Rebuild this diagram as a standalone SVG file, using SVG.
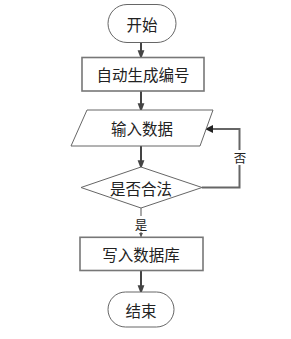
<svg xmlns="http://www.w3.org/2000/svg" width="291" height="339" viewBox="0 0 291 339">
<defs>
<marker id="ah" markerWidth="9" markerHeight="12" refX="9" refY="4.5" orient="auto" markerUnits="userSpaceOnUse" viewBox="0 0 12 9">
<path d="M0,0 L12,4.5 L0,9 Z" fill="#444"/>
</marker>
<marker id="ahs" markerWidth="6" markerHeight="4" refX="6" refY="3" orient="auto" markerUnits="userSpaceOnUse" viewBox="0 0 6 6">
<path d="M0,0 L6,3 L0,6 Z" fill="#555"/>
</marker>
<marker id="ahl" markerWidth="8" markerHeight="8" refX="8" refY="4" orient="auto" markerUnits="userSpaceOnUse" viewBox="0 0 8 8">
<path d="M0,0 L8,4 L0,8 Z" fill="#222"/>
</marker>
</defs>
<style>
.term{fill:#fff;stroke:#666;stroke-width:1}
.box{fill:#fff;stroke:#777;stroke-width:1.6}
.shape{fill:#fff;stroke:#666;stroke-width:1}
.t{font-family:"Noto Sans CJK SC","Noto Sans",sans-serif;font-size:15.5px;fill:#222;text-anchor:middle;dominant-baseline:central}
.lbl{font-family:"Noto Sans CJK SC","Noto Sans",sans-serif;font-size:12.5px;fill:#222;text-anchor:middle;dominant-baseline:central}
.c{fill:none;stroke:#444;stroke-width:2}
.c2{fill:none;stroke:#666;stroke-width:2}
</style>
<g id="connectors">
<line class="c" x1="141" y1="42.5" x2="141" y2="57" marker-end="url(#ah)"/>
<line class="c" x1="141" y1="91" x2="141" y2="110" marker-end="url(#ah)"/>
<line class="c" x1="141" y1="146" x2="141" y2="167" marker-end="url(#ah)"/>
<line x1="141" y1="208" x2="141" y2="237" stroke="#555" stroke-width="1" marker-end="url(#ahs)"/>
<rect x="133" y="216" width="16" height="16" fill="#fff"/>
<text class="lbl" x="141" y="224.5">是</text>
<polyline class="c2" points="202,187.5 239.5,187.5 239.5,129 205,129" marker-end="url(#ahl)"/>
<rect x="232" y="150" width="16" height="15" fill="#fff"/>
<text class="lbl" x="240" y="157.5">否</text>
<line class="c" x1="141" y1="270.5" x2="141" y2="292" marker-end="url(#ah)"/>
</g>
<g id="start">
<rect class="term" x="108" y="4.5" width="68" height="38" rx="19"/>
<text class="t" x="142" y="23.5">开始</text>
</g>
<g id="gen">
<rect class="box" x="82" y="57.5" width="122" height="33.5"/>
<text class="t" x="143" y="74">自动生成编号</text>
</g>
<g id="input">
<polygon class="shape" points="87,110 213,110 200,146 71,146"/>
<text class="t" x="142" y="128">输入数据</text>
</g>
<g id="check">
<polygon class="shape" points="141,167 202,187.5 141,208 81,187.5"/>
<text class="t" x="141" y="187.5">是否合法</text>
</g>
<g id="write">
<rect class="box" x="80" y="237.3" width="123" height="33.2"/>
<text class="t" x="141" y="254">写入数据库</text>
</g>
<g id="end">
<rect class="term" x="108" y="292" width="66" height="35" rx="17.5"/>
<text class="t" x="141" y="309.5">结束</text>
</g>
</svg>
